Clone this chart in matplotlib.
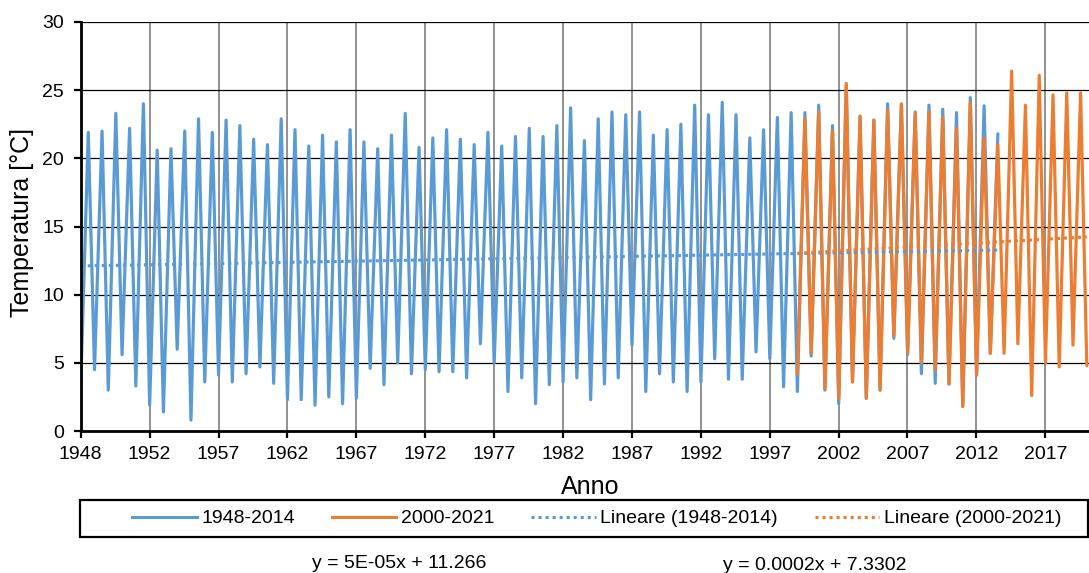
import numpy as np
import pandas as pd
import matplotlib
matplotlib.use('Agg')
import matplotlib.pyplot as plt
from matplotlib.lines import Line2D
from matplotlib.patches import Rectangle

plt.rcParams['font.family'] = ['Liberation Sans', 'DejaVu Sans']

BLU = '#5B9BD5'
ARANCIO = '#ED7D31'

# Serie 1948-2014: minimo di gennaio e massimo estivo per ogni anno [°C]
anni_1 = list(range(1948, 2015))
min_1 = [3.25, 4.5, 3.0, 5.6, 3.3, 1.9, 1.4, 6.0, 0.8, 3.6,
         4.1, 3.6, 4.2, 4.7, 3.5, 2.3, 2.3, 1.9, 2.5, 2.0,
         2.4, 4.6, 3.4, 5.0, 4.2, 4.5, 4.35, 4.35, 3.9, 6.4,
         5.0, 2.9, 3.9, 2.0, 3.4, 3.6, 3.9, 2.3, 3.45, 3.9,
         6.3, 2.9, 4.2, 3.6, 2.9, 3.6, 5.3, 3.8, 3.8, 5.8,
         5.3, 3.25, 2.9, 5.5, 3.0, 2.0, 3.6, 2.4, 3.0, 6.8,
         5.6, 4.2, 3.5, 3.45, 1.8, 4.1, 5.7]
max_1 = [21.9, 22.0, 23.3, 22.2, 24.0, 20.6, 20.7, 22.0, 22.9, 21.9,
         22.8, 22.4, 21.4, 21.0, 22.9, 22.1, 20.9, 21.7, 21.2, 22.1,
         21.2, 20.7, 21.7, 23.3, 20.8, 21.5, 22.1, 21.4, 21.0, 21.9,
         20.9, 21.6, 22.2, 21.6, 22.4, 23.7, 21.3, 22.9, 23.4, 23.2,
         23.4, 21.7, 22.1, 22.5, 23.9, 23.2, 24.1, 23.2, 21.5, 22.1,
         23.0, 23.35, 23.35, 23.9, 22.4, 25.3, 23.0, 22.8, 24.0, 23.9,
         23.4, 23.9, 23.6, 23.35, 24.45, 23.85, 21.8]

# Serie 2000-2021
anni_2 = list(range(2000, 2022))
min_2 = [4.2, 5.7, 3.1, 2.4, 3.6, 2.4, 3.0, 7.0, 5.7, 5.0,
         4.5, 3.45, 1.8, 4.1, 5.7, 5.7, 6.4, 2.6, 5.0, 4.7,
         6.3, 4.8]
max_2 = [22.9, 23.4, 22.0, 25.5, 23.1, 22.8, 23.55, 24.0, 23.3, 23.4,
         23.0, 22.2, 24.1, 21.5, 21.0, 26.4, 23.9, 26.1, 24.65, 24.8,
         24.8]

# Linee di tendenza (x = data seriale Excel in giorni)
tendenza_1 = (4.8e-05, 11.266)
tendenza_2 = (1.563e-04, 7.3302)

anni_tick = [1948, 1952, 1957, 1962, 1967, 1972, 1977, 1982, 1987, 1992,
             1997, 2002, 2007, 2012, 2017]

ORIGINE = pd.Timestamp('1899-12-30')


def seriale(data):
    return (pd.Timestamp(data) - ORIGINE).days


def costruisci_serie(anni, minimi, massimi):
    x, y = [], []
    for i, anno in enumerate(anni):
        x.append(seriale(f'{anno}-01-01'))
        y.append(minimi[i])
        if i < len(massimi):
            x.append(seriale(f'{anno}-07-20'))
            y.append(massimi[i])
    return np.array(x), np.array(y)


x1, y1 = costruisci_serie(anni_1, min_1, max_1)
x2, y2 = costruisci_serie(anni_2, min_2, max_2)

W, H = 1089, 573
fig = plt.figure(figsize=(W / 100, H / 100), dpi=100)

x_inizio = seriale('1948-01-01')
passo = 1826
px_per_giorno = 68.9 / passo
sx, dx = 80.7, 1093
x_fine = x_inizio + (dx - sx) / px_per_giorno
ax = fig.add_axes([sx / W, (H - 431) / H, (dx - sx) / W, 409 / H])

ax.plot(x1, y1, color=BLU, lw=2.3, solid_joinstyle='round', solid_capstyle='round', zorder=3)
ax.plot(x2, y2, color=ARANCIO, lw=2.3, solid_joinstyle='round', solid_capstyle='round', zorder=4)

for xs, (a, b), col in [(x1, tendenza_1, BLU), (x2, tendenza_2, ARANCIO)]:
    xt = np.array([xs.min(), xs.max()])
    ax.plot(xt, a * xt + b, color=col, lw=2.2, linestyle=(0, (1, 1.3)),
            dash_capstyle='butt', zorder=5)

ax.set_xlim(x_inizio, x_fine)
ax.set_ylim(0, 30)
ax.set_yticks(np.arange(0, 31, 5))
ax.set_xticks([x_inizio + k * passo for k in range(len(anni_tick))])
ax.set_xticklabels([str(a) for a in anni_tick])

ax.grid(axis='y', color='black', lw=0.9, zorder=1)
ax.grid(axis='x', color='#7f7f7f', lw=1.2, zorder=1)
for s in ['top', 'right']:
    ax.spines[s].set_visible(False)
for s in ['left', 'bottom']:
    ax.spines[s].set_linewidth(2.0)
    ax.spines[s].set_zorder(6)
ax.tick_params(axis='both', labelsize=14, length=5, width=1.6, direction='out')
ax.tick_params(axis='y', pad=7)
ax.tick_params(axis='x', pad=6)

fig.text(22 / W, 1 - 222 / H, 'Temperatura [°C]', rotation=90, fontsize=18,
         ha='center', va='center')
fig.text(590 / W, 1 - 487 / H, 'Anno', fontsize=18, ha='center', va='center')

# Legenda con cornice
fig.patches.append(Rectangle((80 / W, 1 - 537 / H), (1088 - 80) / W, 37 / H,
                             transform=fig.transFigure, fill=False,
                             edgecolor='black', lw=1.6))
maniglie = [
    Line2D([], [], color=BLU, lw=2.2),
    Line2D([], [], color=ARANCIO, lw=2.2),
    Line2D([], [], color=BLU, lw=2.2, linestyle=(0, (1, 1.3))),
    Line2D([], [], color=ARANCIO, lw=2.2, linestyle=(0, (1, 1.3))),
]
etichette = ['1948-2014', '2000-2021', 'Lineare (1948-2014)', 'Lineare (2000-2021)']
fig.legend(maniglie, etichette, loc='center', bbox_to_anchor=(597 / W, 1 - 518.5 / H),
           ncol=4, frameon=False, fontsize=14, handlelength=3.3,
           handletextpad=0.25, columnspacing=1.9)

# Equazioni delle tendenze
eq1 = f'y = {tendenza_1[0]:.0E}x + {tendenza_1[1]:.3f}'
eq2 = f'y = {tendenza_2[0]:.4f}x + {tendenza_2[1]:.4f}'
fig.text(399 / W, 1 - 563 / H, eq1, fontsize=14, ha='center', va='center')
fig.text(815 / W, 1 - 566 / H, eq2, fontsize=14, ha='center', va='center')

fig.savefig('out.png', dpi=100)
